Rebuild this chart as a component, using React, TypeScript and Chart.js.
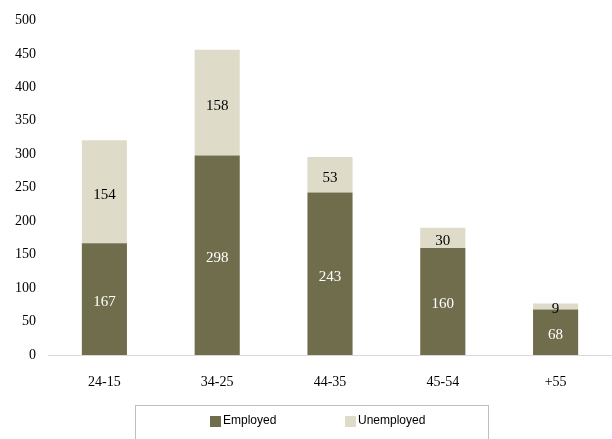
import React, { useEffect, useRef } from "react";
import { Chart, registerables } from "chart.js";

Chart.register(...registerables);

const categories = ["24-15", "34-25", "44-35", "45-54", "+55"];
const employed = [167, 298, 243, 160, 68];
const unemployed = [154, 158, 53, 30, 9];
const yTicks = [0, 50, 100, 150, 200, 250, 300, 350, 400, 450, 500];

const EMP_COLOR = "#6f6d4b";
const UNEMP_COLOR = "#dedcc9";

const valueLabels = {
  id: "valueLabels",
  afterDatasetsDraw(chart: any) {
    const ctx = chart.ctx;
    ctx.save();
    ctx.font = "15px 'Liberation Serif', serif";
    ctx.textAlign = "center";
    ctx.textBaseline = "middle";
    chart.data.datasets.forEach((ds: any, di: number) => {
      const meta = chart.getDatasetMeta(di);
      ctx.fillStyle = di === 0 ? "#ffffff" : "#000000";
      meta.data.forEach((el: any, i: number) => {
        const { x, y, base } = el.getProps(["x", "y", "base"], true);
        ctx.fillText(String(ds.data[i]), x, (y + base) / 2 + 3);
      });
    });
    ctx.restore();
  },
};

const boxLegend = {
  id: "boxLegend",
  afterDraw(chart: any) {
    const ctx = chart.ctx;
    ctx.save();
    ctx.strokeStyle = "#bfbfbf";
    ctx.lineWidth = 1;
    ctx.strokeRect(135.5, 405.5, 353, 40);
    ctx.font = "12px 'Liberation Sans', Arial, sans-serif";
    ctx.textBaseline = "middle";
    ctx.textAlign = "left";
    const items = [
      { label: chart.data.datasets[0].label, color: EMP_COLOR, x: 210 },
      { label: chart.data.datasets[1].label, color: UNEMP_COLOR, x: 345 },
    ];
    items.forEach((it) => {
      ctx.fillStyle = it.color;
      ctx.fillRect(it.x, 416, 11, 11);
      ctx.fillStyle = "#000000";
      ctx.fillText(it.label, it.x + 13, 421);
    });
    ctx.restore();
  },
};

export default function App() {
  const ref = useRef<HTMLCanvasElement>(null);
  useEffect(() => {
    document.body.style.margin = "0";
    const chart = new Chart(ref.current!, {
      type: "bar",
      data: {
        labels: categories,
        datasets: [
          {
            label: "Employed",
            data: employed,
            backgroundColor: EMP_COLOR,
            categoryPercentage: 0.8,
            barPercentage: 0.5,
          },
          {
            label: "Unemployed",
            data: unemployed,
            backgroundColor: UNEMP_COLOR,
            categoryPercentage: 0.8,
            barPercentage: 0.5,
          },
        ],
      },
      options: {
        animation: false,
        responsive: false,
        layout: { padding: { top: 20, right: 0, left: 0, bottom: 0 } },
        plugins: { legend: { display: false }, tooltip: { enabled: false } },
        scales: {
          x: {
            stacked: true,
            grid: { display: false, drawTicks: false },
            border: { display: true, color: "#d9d9d9", width: 1 },
            ticks: {
              color: "#000",
              padding: 19,
              font: { family: "'Liberation Serif', serif", size: 14 },
            },
            afterFit(scale: any) {
              scale.height = 84;
            },
          },
          y: {
            stacked: true,
            min: 0,
            max: 500,
            afterBuildTicks(scale: any) {
              scale.ticks = yTicks.map((v) => ({ value: v }));
            },
            grid: { display: false, drawTicks: false },
            border: { display: false },
            ticks: {
              color: "#000",
              padding: 12,
              font: { family: "'Liberation Serif', serif", size: 14 },
            },
            afterFit(scale: any) {
              scale.width = 48;
            },
          },
        },
      },
      plugins: [valueLabels, boxLegend],
    });
    return () => chart.destroy();
  }, []);
  return <canvas ref={ref} width={612} height={439} style={{ display: "block" }} />;
}
